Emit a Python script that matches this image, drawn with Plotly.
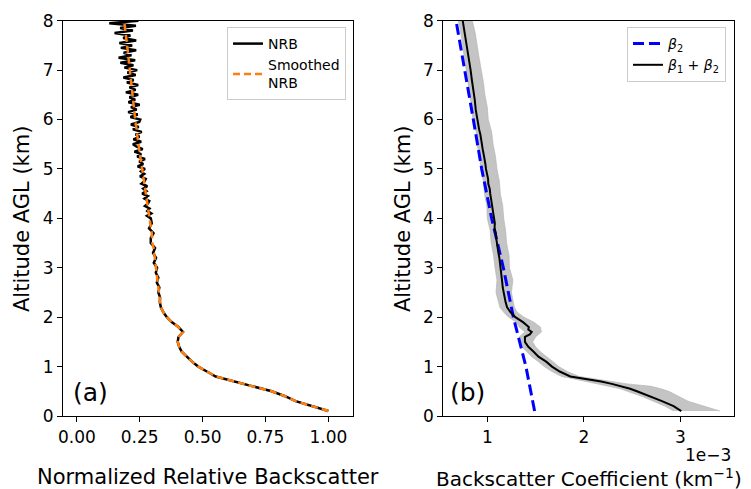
import plotly.graph_objects as go

# ---------------- Panel (a): NRB ----------------
nrb_alt = [0.1, 0.2, 0.3, 0.4, 0.5, 0.6, 0.7, 0.8, 0.9, 1.0, 1.1, 1.2, 1.3, 1.4, 1.5, 1.6, 1.7, 1.8, 1.9, 2.0,
           2.1, 2.2, 2.3, 2.4, 2.5, 2.6, 2.7, 2.8, 2.9, 3.0, 3.1, 3.2, 3.3, 3.4, 3.5, 3.6, 3.7, 3.8, 3.9,
           4.0, 4.05, 4.1, 4.15, 4.2, 4.25, 4.3, 4.35, 4.4, 4.45, 4.5, 4.55, 4.6, 4.65, 4.7, 4.75, 4.8, 4.85, 4.9, 4.95,
           5.0, 5.05, 5.1, 5.15, 5.2, 5.25, 5.3, 5.35, 5.4, 5.45, 5.5, 5.55, 5.6, 5.65, 5.7, 5.75, 5.8, 5.85, 5.9, 5.95,
           6.0, 6.05, 6.1, 6.15, 6.2, 6.25, 6.3, 6.35, 6.4, 6.45, 6.5, 6.55, 6.6, 6.65, 6.7, 6.75, 6.8, 6.85, 6.9, 6.95,
           7.0, 7.05, 7.1, 7.15, 7.2, 7.25, 7.3, 7.35, 7.4, 7.45, 7.5, 7.55, 7.6, 7.65, 7.7, 7.75, 7.8, 7.85, 7.9, 7.95, 8.0]
nrb_val = [1.000, 0.935, 0.870, 0.828, 0.775, 0.700, 0.622, 0.552, 0.517, 0.483, 0.458, 0.437, 0.417, 0.407, 0.401,
           0.404, 0.422, 0.404, 0.377, 0.358, 0.344, 0.334, 0.330, 0.331, 0.324, 0.328, 0.318, 0.324, 0.314, 0.319,
           0.306, 0.315, 0.303, 0.311, 0.294, 0.294, 0.305, 0.287, 0.298,
           0.294, 0.279, 0.296, 0.280, 0.289, 0.271, 0.283, 0.288, 0.269, 0.282, 0.260, 0.277, 0.264, 0.280, 0.257,
           0.269, 0.274, 0.251, 0.268, 0.255,
           0.271, 0.242, 0.264, 0.248, 0.271, 0.240, 0.256, 0.229, 0.262, 0.238, 0.223, 0.256, 0.225, 0.249, 0.234,
           0.258, 0.223, 0.246, 0.215, 0.248,
           0.252, 0.213, 0.242, 0.204, 0.238, 0.215, 0.250, 0.205, 0.232, 0.209, 0.244, 0.195, 0.234, 0.209, 0.244,
           0.199, 0.226, 0.185, 0.234, 0.201,
           0.240, 0.189, 0.225, 0.173, 0.232, 0.166, 0.217, 0.186, 0.236, 0.175, 0.220, 0.169, 0.236, 0.184, 0.213,
           0.150, 0.223, 0.172, 0.235, 0.129, 0.245]

smooth_alt = [0.1, 0.2, 0.3, 0.4, 0.5, 0.6, 0.7, 0.8, 0.9, 1.0, 1.1, 1.2, 1.3, 1.4, 1.5, 1.6, 1.7, 1.8, 1.9, 2.0,
              2.1, 2.2, 2.5, 2.7, 2.9, 3.0, 3.2, 3.4, 3.5, 3.7, 4.0, 4.3, 4.5, 4.7, 5.0, 5.5, 6.0, 6.5, 7.0, 7.5, 7.95]
smooth_val = [1.000, 0.935, 0.870, 0.828, 0.775, 0.700, 0.622, 0.552, 0.517, 0.483, 0.458, 0.437, 0.417, 0.407,
              0.401, 0.404, 0.422, 0.404, 0.377, 0.358, 0.344, 0.334, 0.327, 0.322, 0.318, 0.315, 0.311, 0.305,
              0.300, 0.298, 0.289, 0.280, 0.272, 0.267, 0.258, 0.245, 0.232, 0.222, 0.212, 0.200, 0.189]

# ---------------- Panel (b): backscatter (units of 1e-3 km^-1) ----------------
b2_alt = [0.1, 1.0, 2.0, 3.0, 4.0, 5.0, 6.0, 7.0, 8.0]
b2_val = [1.49, 1.40, 1.27, 1.166, 1.045, 0.942, 0.855, 0.769, 0.676]

tot_alt = [0.1, 0.2, 0.3, 0.4, 0.5, 0.55, 0.6, 0.65, 0.7, 0.75, 0.8, 0.9, 1.0, 1.1, 1.2, 1.3, 1.4, 1.5, 1.6, 1.65,
           1.7, 1.75, 1.8, 1.9, 2.0, 2.1, 2.2, 2.3, 2.4, 2.5, 2.6, 2.7, 2.8, 2.9, 3.0, 3.1, 3.2, 3.3, 3.4, 3.5,
           3.6, 3.7, 3.8, 3.9, 4.0, 4.1, 4.2, 4.3, 4.4, 4.5, 4.6, 4.7, 4.8, 4.9, 5.0, 5.1, 5.2, 5.3, 5.4, 5.5,
           5.6, 5.7, 5.8, 5.9, 6.0, 6.2, 6.4, 6.6, 6.8, 7.0, 7.2, 7.4, 7.6, 7.8, 8.0]
tot_val = [3.01, 2.93, 2.81, 2.69, 2.55, 2.48, 2.39, 2.29, 2.18, 2.01, 1.86, 1.75, 1.67, 1.61, 1.53, 1.48, 1.425,
           1.39, 1.39, 1.44, 1.46, 1.425, 1.43, 1.37, 1.29, 1.24, 1.205, 1.19, 1.18, 1.166, 1.16, 1.155, 1.15,
           1.14, 1.138, 1.13, 1.125, 1.115, 1.105, 1.10, 1.092, 1.088, 1.075, 1.078, 1.069, 1.06, 1.058, 1.045,
           1.04, 1.03, 1.025, 1.01, 1.008, 0.995, 0.986, 0.98, 0.968, 0.962, 0.952, 0.945, 0.935, 0.928, 0.915,
           0.905, 0.895, 0.88, 0.87, 0.853, 0.84, 0.827, 0.81, 0.795, 0.78, 0.763, 0.745]

band_alt = [0.1, 0.2, 0.3, 0.4, 0.5, 0.55, 0.6, 0.65, 0.7, 0.75, 0.8, 0.9, 1.0, 1.1, 1.2, 1.3, 1.4, 1.5, 1.6, 1.7,
            1.8, 1.9, 2.0, 2.1, 2.2, 2.5, 2.75, 3.0, 3.25, 3.5, 3.75, 4.0, 4.25, 4.5, 4.75, 5.0, 5.25, 5.5, 5.75,
            6.0, 6.25, 6.5, 6.75, 7.0, 7.25, 7.5, 7.75, 8.0]
band_lo = [2.93, 2.84, 2.72, 2.60, 2.45, 2.38, 2.28, 2.15, 2.03, 1.90, 1.77, 1.67, 1.59, 1.53, 1.46, 1.41, 1.36,
           1.33, 1.33, 1.39, 1.33, 1.30, 1.22, 1.17, 1.13, 1.09, 1.10, 1.08, 1.065, 1.04, 1.03, 1.00, 0.995,
           0.97, 0.96, 0.93, 0.925, 0.89, 0.885, 0.85, 0.84, 0.815, 0.80, 0.78, 0.765, 0.745, 0.725, 0.70]
band_hi = [3.41, 3.25, 3.08, 2.98, 2.88, 2.80, 2.70, 2.45, 2.28, 2.10, 1.95, 1.83, 1.74, 1.68, 1.61, 1.55, 1.50,
           1.47, 1.50, 1.56, 1.55, 1.48, 1.38, 1.31, 1.28, 1.25, 1.265, 1.23, 1.225, 1.20, 1.19, 1.17, 1.16,
           1.135, 1.125, 1.10, 1.085, 1.06, 1.045, 1.01, 1.0, 0.975, 0.96, 0.935, 0.915, 0.895, 0.875, 0.845]

FONT = "DejaVu Sans"
fig = go.Figure()

# uncertainty band (closed polygon)
fig.add_trace(go.Scatter(x=band_hi + band_lo[::-1], y=band_alt + band_alt[::-1], fill="toself",
                         fillcolor="#c4c4c4", line=dict(color="rgba(180,180,180,0.8)", width=0.8),
                         mode="lines", showlegend=False, hoverinfo="skip", xaxis="x2", yaxis="y2"))

fig.add_trace(go.Scatter(x=nrb_val, y=nrb_alt, mode="lines", name="NRB",
                         line=dict(color="black", width=2.5), legend="legend", xaxis="x", yaxis="y"))
fig.add_trace(go.Scatter(x=smooth_val, y=smooth_alt, mode="lines", name="Smoothed<br>NRB",
                         line=dict(color="#ff7f0e", width=2.5, dash="7px,4px"), legend="legend",
                         xaxis="x", yaxis="y"))

fig.add_trace(go.Scatter(x=b2_val, y=b2_alt, mode="lines", name="<i>β</i><sub>2</sub>",
                         line=dict(color="#0000ff", width=3, dash="11px,5px"), legend="legend2",
                         xaxis="x2", yaxis="y2"))
fig.add_trace(go.Scatter(x=tot_val, y=tot_alt, mode="lines", name="<i>β</i><sub>1</sub> + <i>β</i><sub>2</sub>",
                         line=dict(color="black", width=2), legend="legend2", xaxis="x2", yaxis="y2"))

W, H = 751, 489
OFF = 8  # page body margin: the figure is drawn 8 px right and down in the window
def px(xp):
    return (xp - OFF) / W
def py(yp):
    return 1 - (yp - OFF) / H

axis_common = dict(showline=True, mirror=True, linecolor="black", linewidth=1.2, showgrid=False,
                   zeroline=False, ticks="outside", ticklen=5, tickwidth=1.2, tickcolor="black",
                   automargin=False,
                   tickfont=dict(family=FONT, size=17, color="black"))

fig.update_layout(
    width=W, height=H, margin=dict(l=0, r=0, t=0, b=0, pad=0, autoexpand=False),
    paper_bgcolor="white", plot_bgcolor="white",
    font=dict(family=FONT, color="black"),
    xaxis=dict(domain=[px(63), px(353)], range=[-0.055, 1.098], tickvals=[0, 0.25, 0.5, 0.75, 1.0],
               ticktext=["0.00", "0.25", "0.50", "0.75", "1.00"], anchor="y", **axis_common),
    yaxis=dict(domain=[py(416), py(20.7)], range=[0, 8], tickvals=list(range(9)), anchor="x", **axis_common),
    xaxis2=dict(domain=[px(443.3), px(734)], range=[0.544, 3.556], tickvals=[1, 2, 3],
                ticktext=["1", "2", "3"], anchor="y2", **axis_common),
    yaxis2=dict(domain=[py(416), py(20.7)], range=[0, 8], tickvals=list(range(9)), anchor="x2", **axis_common),
    legend=dict(x=px(346), y=py(27), xanchor="right", yanchor="top", bgcolor="white",
                bordercolor="#cccccc", borderwidth=1, font=dict(family=FONT, size=14, color="black")),
    legend2=dict(x=px(726), y=py(27), xanchor="right", yanchor="top", bgcolor="white",
                 bordercolor="#cccccc", borderwidth=1, font=dict(family=FONT, size=14, color="black")),
)

ann = [
    dict(text="Altitude AGL (km)", x=px(22), y=py(219), textangle=-90, font=dict(size=21)),
    dict(text="Altitude AGL (km)", x=px(403), y=py(219), textangle=-90, font=dict(size=21)),
    dict(text="Normalized Relative Backscatter", x=px(208), y=py(477), font=dict(size=21)),
    dict(text="Backscatter Coefficient (km<sup>−1</sup>)", x=px(589), y=py(478), font=dict(size=20)),
    dict(text="1e−3", x=px(733), y=py(455), xanchor="right", font=dict(size=17)),
    dict(text="(a)", x=px(90), y=py(392), font=dict(size=25)),
    dict(text="(b)", x=px(467), y=py(392), font=dict(size=25)),
]
for a in ann:
    a.setdefault("xanchor", "center")
    fig.add_annotation(xref="paper", yref="paper", yanchor="middle", showarrow=False,
                       font_family=FONT, font_color="black", **a)

fig.write_html("out.html")
